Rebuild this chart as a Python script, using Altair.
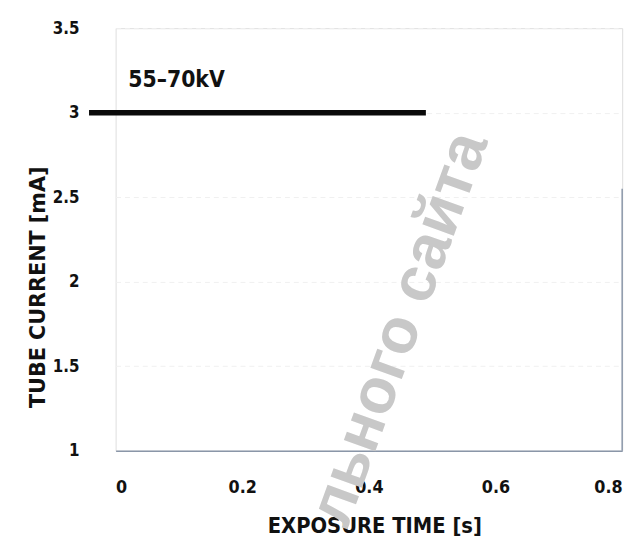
import altair as alt
import pandas as pd

# data
line_x = [-0.042, 0.49]
line_y = [3.0, 3.0]
series_label = ["55–70kV"]
label_x = [0.02]
label_y = [3.19]
x_ticks = [0, 0.2, 0.4, 0.6, 0.8]
y_ticks = [1, 1.5, 2, 2.5, 3, 3.5]
border_x = [0.8]
border_y = [1.0]
border_y2 = [2.55]
watermark_text = ["льного сайта"]
watermark_x = [0.449]
watermark_y = [1.72]

NARROW = "DejaVu Sans Condensed, Liberation Sans Narrow, sans-serif"

xs = alt.Scale(domain=[0, 0.8], nice=False, zero=False)
ys = alt.Scale(domain=[1, 3.5], nice=False, zero=False)

line_df = pd.DataFrame({"x": line_x, "y": line_y})
lab_df = pd.DataFrame({"x": label_x, "y": label_y, "t": series_label})
bord_df = pd.DataFrame({"x": border_x, "y": border_y, "y2": border_y2})
wm_df = pd.DataFrame({"x": watermark_x, "y": watermark_y, "t": watermark_text})

x_axis = alt.Axis(
    values=x_ticks, format="~g", grid=False, ticks=False,
    domain=True, domainColor="#8a96a8", domainWidth=1.5,
    labelFont=NARROW, labelFontWeight="bold", labelFontSize=18,
    labelColor="#111111", labelPadding=28, labelBaseline="top",
    title="EXPOSURE TIME [s]", titleFont=NARROW, titleFontWeight="bold",
    titleFontSize=22, titleColor="#111111", titleX=262, titleY=76,
    titleAlign="center", titleBaseline="middle",
)
y_axis = alt.Axis(
    values=y_ticks, format="~g", grid=True, gridColor="#f0f0f0",
    gridDash=[5, 4], gridWidth=1, ticks=False, domain=False,
    labelFont=NARROW, labelFontWeight="bold", labelFontSize=17,
    labelColor="#111111", labelPadding=37,
    title="TUBE CURRENT [mA]", titleFont="DejaVu Sans, sans-serif",
    titleFontWeight="bold", titleFontSize=21, titleColor="#111111",
    titleAngle=270, titleX=-78, titleY=262, titleAlign="center",
    titleBaseline="middle",
)

line = alt.Chart(line_df).mark_line(color="#0a0a0a", strokeWidth=5.5).encode(
    x=alt.X("x:Q", scale=xs, axis=x_axis),
    y=alt.Y("y:Q", scale=ys, axis=y_axis),
)

label = alt.Chart(lab_df).mark_text(
    align="left", baseline="middle", font=NARROW, fontWeight="bold",
    fontSize=23, color="#111111",
).encode(x=alt.X("x:Q", scale=xs), y=alt.Y("y:Q", scale=ys), text="t:N")

border = alt.Chart(bord_df).mark_rule(color="#8a96a8", strokeWidth=1.5).encode(
    x=alt.X("x:Q", scale=xs), y=alt.Y("y:Q", scale=ys), y2="y2:Q"
)

watermark = alt.Chart(wm_df).mark_text(
    align="center", baseline="middle", angle=290,
    font="Liberation Sans, Arial, sans-serif", fontWeight="bold",
    fontSize=64, color="#c8c8c8",
).encode(x=alt.X("x:Q", scale=xs), y=alt.Y("y:Q", scale=ys), text="t:N")

chart = alt.layer(border, line, label, watermark).properties(
    width=513, height=428,
    autosize=alt.AutoSizeParams(type="none"),
    padding={"left": 109, "top": 17, "right": 13, "bottom": 90},
).configure_view(stroke=None).configure(background="white")

chart.save("out.html", embed_options={"renderer": "svg", "actions": False})
